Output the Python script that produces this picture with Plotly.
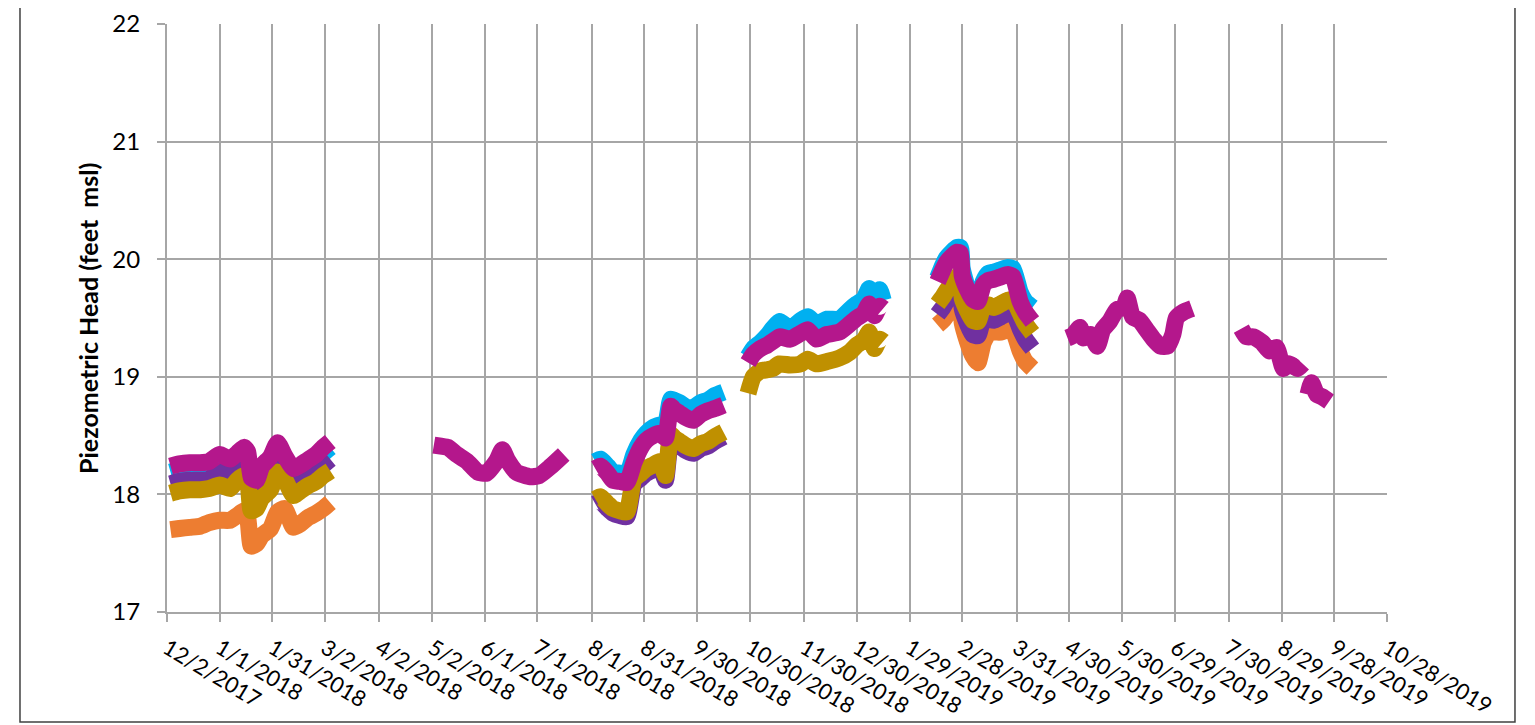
import pandas as pd
import plotly.graph_objects as go

# sampling dates for each logger deployment
dates_a = ["2017-12-04", "2017-12-09", "2017-12-15", "2017-12-21", "2017-12-26", "2018-01-01",
           "2018-01-07", "2018-01-11", "2018-01-15", "2018-01-17", "2018-01-19", "2018-01-22",
           "2018-01-25", "2018-01-30", "2018-02-03", "2018-02-07", "2018-02-12", "2018-02-16",
           "2018-02-20", "2018-02-25", "2018-03-01", "2018-03-05"]
dates_b = ["2018-05-03", "2018-05-07", "2018-05-11", "2018-05-16", "2018-05-22", "2018-05-28",
           "2018-06-02", "2018-06-08", "2018-06-11", "2018-06-14", "2018-06-19", "2018-06-27",
           "2018-07-02", "2018-07-08", "2018-07-16"]
dates_c = ["2018-08-03", "2018-08-06", "2018-08-10", "2018-08-13", "2018-08-17", "2018-08-21",
           "2018-08-25", "2018-08-29", "2018-09-01", "2018-09-05", "2018-09-09", "2018-09-12",
           "2018-09-15", "2018-09-17", "2018-09-20", "2018-09-24", "2018-09-28", "2018-10-02",
           "2018-10-06", "2018-10-10", "2018-10-15"]
dates_d = ["2018-10-29", "2018-11-01", "2018-11-05", "2018-11-09", "2018-11-12", "2018-11-16",
           "2018-11-22", "2018-11-28", "2018-12-02", "2018-12-07", "2018-12-13", "2018-12-20",
           "2018-12-26", "2018-12-30", "2019-01-03", "2019-01-06", "2019-01-09", "2019-01-12",
           "2019-01-14"]
dates_e = ["2019-02-14", "2019-02-17", "2019-02-19", "2019-02-22", "2019-02-25", "2019-02-27",
           "2019-02-28", "2019-03-03", "2019-03-06", "2019-03-09", "2019-03-12", "2019-03-15",
           "2019-03-18", "2019-03-22", "2019-03-26", "2019-03-29", "2019-04-02", "2019-04-05",
           "2019-04-09"]
dates_f = ["2019-04-29", "2019-05-02", "2019-05-06", "2019-05-08", "2019-05-12", "2019-05-16",
           "2019-05-19", "2019-05-23", "2019-05-27", "2019-05-31", "2019-06-02", "2019-06-05",
           "2019-06-09", "2019-06-13", "2019-06-17", "2019-06-21", "2019-06-25", "2019-06-28",
           "2019-06-30", "2019-07-04", "2019-07-09"]
dates_g = ["2019-08-06", "2019-08-09", "2019-08-13", "2019-08-18", "2019-08-22", "2019-08-26",
           "2019-08-30", "2019-09-02", "2019-09-07", "2019-09-10", "2019-09-11", "2019-09-13",
           "2019-09-15", "2019-09-18", "2019-09-21", "2019-09-25"]

# piezometric head, feet msl
orange_a = [17.70, 17.71, 17.72, 17.73, 17.76, 17.78, 17.78, 17.82, 17.86, 17.80, 17.56, 17.58,
            17.65, 17.71, 17.85, 17.88, 17.72, 17.75, 17.80, 17.84, 17.88, 17.93]
orange_e = [19.44, 19.48, 19.52, 19.58, 19.63, 19.66, 19.46, 19.30, 19.18, 19.12, 19.29, 19.37,
            19.38, 19.38, 19.40, 19.39, 19.22, 19.13, 19.07]

cyan_a = [18.19, 18.21, 18.22, 18.22, 18.23, 18.29, 18.25, 18.30, 18.35, 18.31, 18.09, 18.07,
          18.19, 18.27, 18.39, 18.28, 18.17, 18.20, 18.24, 18.29, 18.35, 18.40]
cyan_c = [18.28, 18.30, 18.24, 18.19, 18.18, 18.17, 18.34, 18.46, 18.52, 18.57, 18.59, 18.60,
          18.81, 18.80, 18.78, 18.74, 18.74, 18.78, 18.80, 18.84, 18.87]
cyan_d = [19.17, 19.24, 19.29, 19.35, 19.41, 19.47, 19.41, 19.48, 19.51, 19.45, 19.49, 19.49,
          19.57, 19.62, 19.66, 19.75, 19.66, 19.74, 19.65]
cyan_e = [19.84, 19.95, 20.01, 20.06, 20.10, 20.10, 19.92, 19.76, 19.69, 19.67, 19.81, 19.88,
          19.89, 19.91, 19.93, 19.92, 19.72, 19.64, 19.59]

purple_a = [18.09, 18.11, 18.12, 18.12, 18.13, 18.19, 18.15, 18.20, 18.25, 18.21, 17.99, 17.97,
            18.09, 18.17, 18.29, 18.18, 18.07, 18.10, 18.14, 18.19, 18.25, 18.30]
purple_c = [17.92, 17.94, 17.88, 17.84, 17.82, 17.81, 18.09, 18.14, 18.18, 18.21, 18.24, 18.12,
            18.47, 18.44, 18.41, 18.37, 18.35, 18.39, 18.41, 18.45, 18.49]
purple_e = [19.53, 19.59, 19.64, 19.70, 19.75, 19.78, 19.58, 19.45, 19.36, 19.35, 19.49, 19.49,
            19.48, 19.51, 19.54, 19.55, 19.41, 19.32, 19.24]

gold_a = [18.01, 18.03, 18.04, 18.04, 18.05, 18.08, 18.05, 18.12, 18.16, 18.12, 17.86, 17.88,
          17.97, 18.04, 18.19, 18.13, 17.99, 18.03, 18.07, 18.11, 18.16, 18.20]
gold_c = [17.96, 17.98, 17.92, 17.88, 17.86, 17.85, 18.13, 18.18, 18.22, 18.25, 18.28, 18.16,
          18.51, 18.48, 18.45, 18.41, 18.39, 18.43, 18.45, 18.49, 18.53]
gold_d = [18.86, 19.00, 19.05, 19.06, 19.07, 19.11, 19.10, 19.11, 19.15, 19.11, 19.13, 19.16,
          19.21, 19.27, 19.31, 19.38, 19.24, 19.32, 19.30]
gold_e = [19.62, 19.68, 19.73, 19.79, 19.84, 19.88, 19.67, 19.56, 19.48, 19.47, 19.60, 19.61,
          19.59, 19.62, 19.65, 19.66, 19.54, 19.45, 19.37]

magenta_a = [18.24, 18.26, 18.27, 18.27, 18.28, 18.34, 18.30, 18.35, 18.40, 18.36, 18.14, 18.12,
             18.24, 18.32, 18.44, 18.33, 18.22, 18.25, 18.29, 18.34, 18.40, 18.45]
magenta_b = [18.42, 18.41, 18.40, 18.34, 18.28, 18.19, 18.18, 18.29, 18.38, 18.29, 18.19, 18.15,
             18.16, 18.23, 18.34]
magenta_c = [18.22, 18.24, 18.18, 18.12, 18.11, 18.10, 18.27, 18.40, 18.46, 18.50, 18.52, 18.48,
             18.75, 18.72, 18.69, 18.65, 18.63, 18.68, 18.71, 18.73, 18.76]
magenta_d = [19.12, 19.19, 19.24, 19.27, 19.30, 19.34, 19.32, 19.37, 19.40, 19.32, 19.36, 19.38,
             19.45, 19.50, 19.54, 19.62, 19.52, 19.60, 19.58]
magenta_e = [19.81, 19.91, 19.97, 20.02, 20.06, 20.05, 19.86, 19.74, 19.66, 19.64, 19.78, 19.82,
             19.83, 19.85, 19.87, 19.85, 19.64, 19.55, 19.47]
magenta_f = [19.33, 19.35, 19.42, 19.33, 19.36, 19.26, 19.40, 19.47, 19.57, 19.59, 19.67, 19.51,
             19.48, 19.40, 19.32, 19.26, 19.26, 19.36, 19.50, 19.55, 19.58]
magenta_g = [19.41, 19.34, 19.34, 19.29, 19.22, 19.25, 19.07, 19.11, 19.07, 19.11, None, 18.85,
             18.95, 18.85, 18.83, 18.79]

tick_labels = ["12/2/2017", "1/1/2018", "1/31/2018", "3/2/2018", "4/2/2018", "5/2/2018",
               "6/1/2018", "7/1/2018", "8/1/2018", "8/31/2018", "9/30/2018", "10/30/2018",
               "11/30/2018", "12/30/2018", "1/29/2019", "2/28/2019", "3/31/2019", "4/30/2019",
               "5/30/2019", "6/29/2019", "7/30/2019", "8/29/2019", "9/28/2019", "10/28/2019"]


# stitch deployments together, with a break between them
def join(*parts):
    xs, ys = [], []
    for d, v in parts:
        if xs:
            xs.append(d[0])
            ys.append(None)
        xs += d
        ys += v
    return xs, ys


series = [
    ("#ED7D31", [(dates_a, orange_a), (dates_e, orange_e)]),
    ("#00B0F0", [(dates_a, cyan_a), (dates_c, cyan_c), (dates_d, cyan_d), (dates_e, cyan_e)]),
    ("#7030A0", [(dates_a, purple_a), (dates_c, purple_c), (dates_e, purple_e)]),
    ("#BF9000", [(dates_a, gold_a), (dates_c, gold_c), (dates_d, gold_d), (dates_e, gold_e)]),
    ("#B4178C", [(dates_a, magenta_a), (dates_b, magenta_b), (dates_c, magenta_c),
                 (dates_d, magenta_d), (dates_e, magenta_e), (dates_f, magenta_f),
                 (dates_g, magenta_g)]),
]

fig = go.Figure()
for color, parts in series:
    x, y = join(*parts)
    fig.add_trace(go.Scatter(x=x, y=y, mode="lines", connectgaps=False,
                             line=dict(color=color, width=17, shape="spline", smoothing=0.5),
                             showlegend=False))

grid = "#A6A6A6"
fig.update_xaxes(
    range=["2017-12-02", "2019-10-28"],
    tickvals=pd.to_datetime(tick_labels, format="%m/%d/%Y"),
    ticktext=tick_labels,
    tickangle=31,
    tickfont=dict(family="Lato", size=22, color="black"),
    ticks="outside", ticklen=8, tickcolor=grid, tickwidth=2,
    ticklabelstandoff=5,
    showgrid=True, gridcolor=grid, gridwidth=2,
    showline=True, linecolor=grid, linewidth=2,
    zeroline=False, automargin=False,
)
fig.update_yaxes(
    range=[17, 22],
    dtick=1,
    tickfont=dict(family="Lato", size=24, color="black"),
    ticks="outside", ticklen=8, tickcolor=grid, tickwidth=2,
    ticklabelstandoff=12,
    showgrid=True, gridcolor=grid, gridwidth=2,
    showline=True, linecolor=grid, linewidth=2,
    zeroline=False, automargin=False,
)

fig.add_annotation(
    text="<b>Piezometric Head (feet  msl)</b>", textangle=-90,
    x=-0.0648, y=0.5, xref="paper", yref="paper",
    xanchor="center", yanchor="middle", showarrow=False,
    font=dict(family="Lato", size=25, color="black"),
)

# chart frame
fig.add_shape(type="rect", xref="paper", yref="paper",
              x0=-0.1205, x1=1.1049, y0=-0.1871, y1=1.0289,
              line=dict(color="#404040", width=1.5))

# the page body adds an 8px margin, so the figure is 8px smaller than the window
fig.update_layout(
    width=1527, height=717,
    margin=dict(l=159, r=148, t=16, b=113),
    plot_bgcolor="white", paper_bgcolor="white",
    showlegend=False,
)

fig.write_html("out.html")
